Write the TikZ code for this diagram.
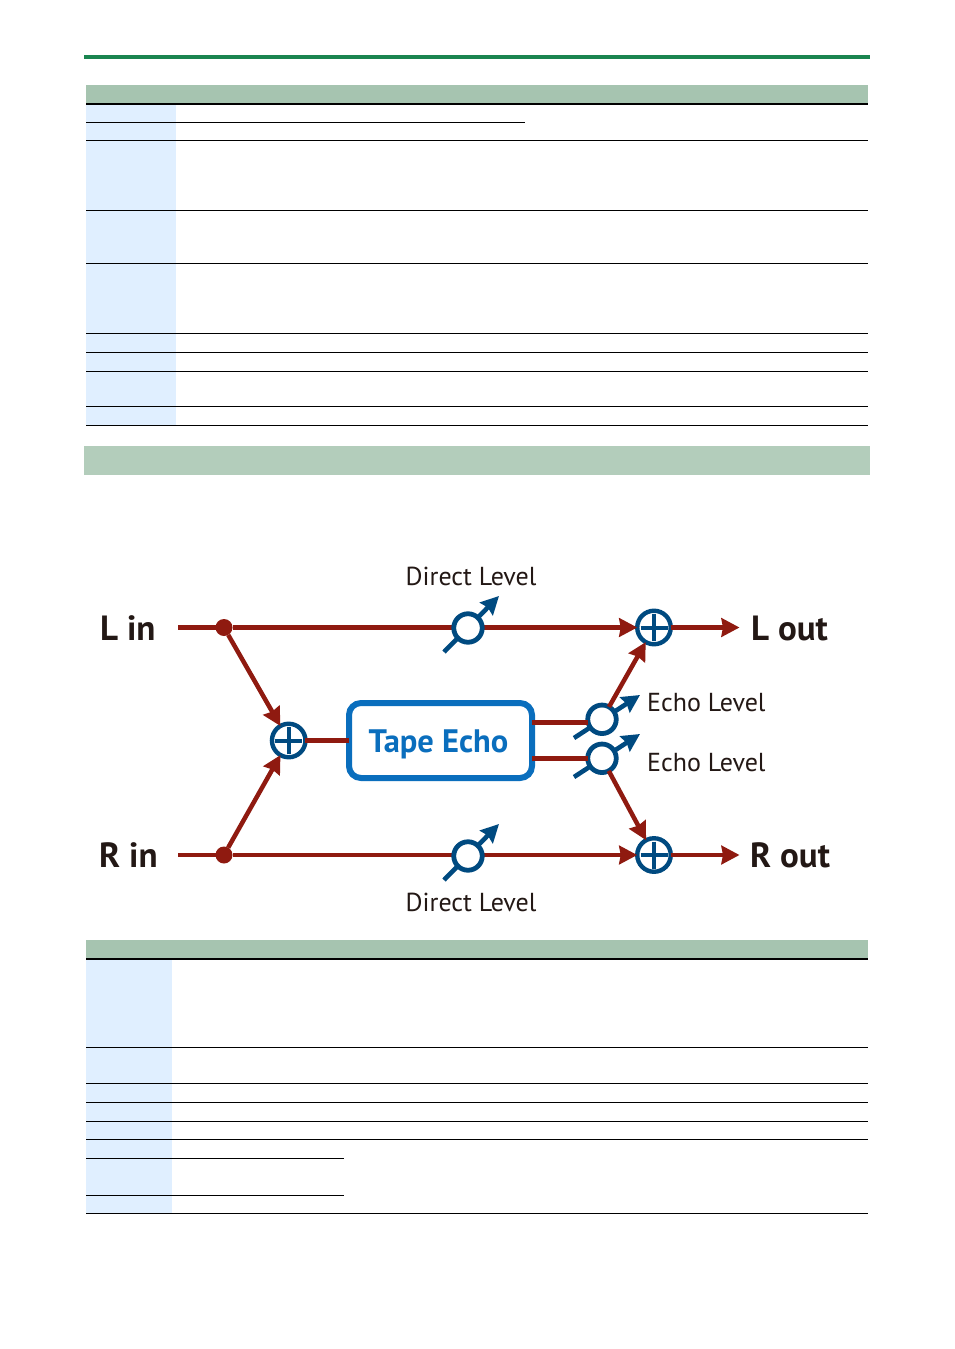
\documentclass[tikz,border=0pt]{standalone}
\usepackage{fontspec}
\setmainfont{PT Sans}
\usetikzlibrary{arrows.meta}
\definecolor{sigred}{HTML}{8F1A10}
\definecolor{knob}{HTML}{004A80}
\definecolor{boxblue}{HTML}{0A6EBD}
\definecolor{ink}{HTML}{231815}
\definecolor{rulegreen}{HTML}{1A8550}
\definecolor{headgreen}{HTML}{A6C4B0}
\definecolor{bandgreen}{HTML}{B3CDBB}
\definecolor{cellblue}{HTML}{E0EFFF}
\tikzset{
  sig/.style={draw=sigred,line width=4.5pt},
  sigarrow/.style={sig,-{Stealth[length=18pt,width=18.5pt,inset=1.5pt]}},
  pointer/.style={draw=knob,line width=4.6pt,-{Stealth[length=18pt,width=18pt,inset=2pt]}},
  levelknob/.style={circle,draw=knob,line width=4.8pt,fill=white,minimum size=28.5pt,inner sep=0pt,outer sep=0pt},
  summer/.style={circle,draw=knob,line width=4.4pt,fill=white,minimum size=33.5pt,inner sep=0pt,outer sep=0pt},
  crossbar/.style={draw=knob,line width=4pt},
  junction/.style={circle,fill=sigred,minimum size=17pt,inner sep=0pt,outer sep=0pt},
  fxbox/.style={draw=boxblue,line width=6pt,rounded corners=12pt,fill=white,minimum width=183pt,minimum height=75pt,inner sep=0pt,outer sep=0pt},
  fxlabel/.style={text=boxblue,font=\fontsize{32.5}{32.5}\selectfont\bfseries,inner sep=0pt,anchor=base},
  iolabel/.style={text=ink,font=\fontsize{35}{35}\selectfont\bfseries,inner sep=0pt,anchor=base west},
  levellabel/.style={text=ink,font=\fontsize{26}{26}\selectfont,inner sep=0pt,anchor=base west},
  thinrule/.style={draw=black,line width=1pt},
  thickrule/.style={draw=black,line width=1.8pt},
}
\begin{document}
\begin{tikzpicture}[x=1pt,y=-1pt]
\useasboundingbox (0,0) rectangle (954,1349);
\fill[white] (0,0) rectangle (954,1349);
% page furniture
\fill[rulegreen] (84,55) rectangle (870,59);
\fill[bandgreen] (84,446) rectangle (870,474.5);
% upper table
\fill[headgreen] (86,85) rectangle (868,103.5);
\fill[cellblue] (86,104) rectangle (176,425.5);
\draw[thickrule] (86,104) -- (868,104);
\draw[thinrule] (86,122.5) -- (525,122.5);
\foreach \yy in {140.5,210.5,263.5,333.5,352.5,371.5,406.5,425.5}
  \draw[thinrule] (86,\yy) -- (868,\yy);
% lower table
\fill[headgreen] (86,940) rectangle (868,958);
\fill[cellblue] (86,959) rectangle (172,1213.5);
\draw[thickrule] (86,959) -- (868,959);
\foreach \yy in {1047.5,1083.5,1102.5,1121.5,1139.5,1213.5}
  \draw[thinrule] (86,\yy) -- (868,\yy);
\foreach \yy in {1158.5,1195.5}
  \draw[thinrule] (86,\yy) -- (344,\yy);
% free ends
\coordinate (lstart) at (178,627.5);
\coordinate (rstart) at (178,855);
\coordinate (lend) at (739.5,627.5);
\coordinate (rend) at (739.5,855);
\coordinate (e1in) at (534,722.5);
\coordinate (e2in) at (534,758.7);
\coordinate (d1a) at (444,652); \coordinate (d1b) at (499,596);
\coordinate (d2a) at (444,880); \coordinate (d2b) at (499,824);
\coordinate (e1a) at (574,738); \coordinate (e1b) at (640,695);
\coordinate (e2a) at (574,777); \coordinate (e2b) at (640,734);
% level pointers
\draw[pointer] (d1a) -- (d1b);
\draw[pointer] (d2a) -- (d2b);
\draw[pointer] (e1a) -- (e1b);
\draw[pointer] (e2a) -- (e2b);
% main signal lines sit under the knobs
\node[junction] (ldot) at (224,627.5) {};
\node[junction] (rdot) at (224,855) {};
\node[summer] (lsum) at (654,627.5) {};
\node[summer] (rsum) at (654,855) {};
\node[summer] (insum) at (288.7,740.5) {};
\draw[sig] (lstart) -- (ldot);
\draw[sig] (rstart) -- (rdot);
\draw[sigarrow] (ldot) -- (lsum);
\draw[sigarrow] (rdot) -- (rsum);
\node[levelknob] (dk1) at (468,628) {};
\node[levelknob] (dk2) at (468,856) {};
\node[levelknob] (ek1) at (602,719.3) {};
\node[levelknob] (ek2) at (602,758.3) {};
\foreach \s in {lsum,rsum,insum}{
  \draw[crossbar] (\s.center) +(-13.5,0) -- +(13.5,0);
  \draw[crossbar] (\s.center) +(0,-13.5) -- +(0,13.5);
}
\node[fxbox] (fx) at (440.5,740.5) {};
\node[fxlabel] (fxname) at (438.5,752.5) {Tape Echo};
% connectors
\draw[sigarrow] (ldot) -- (insum);
\draw[sigarrow] (rdot) -- (insum);
\draw[sig] (insum) -- (fx);
\draw[sig] (fx.east |- e1in) -- (ek1.west |- e1in);
\draw[sig] (fx.east |- e2in) -- (ek2.west |- e2in);
\draw[sigarrow] (ek1) -- (lsum);
\draw[sigarrow] (ek2) -- (rsum);
\draw[sigarrow] (lsum) -- (lend);
\draw[sigarrow] (rsum) -- (rend);
% labels
\node[iolabel] (lin) at (100,640) {L in};
\node[iolabel] (rin) at (99,867) {R in};
\node[iolabel] (lout) at (751,640) {L out};
\node[iolabel] (rout) at (750,867) {R out};
\node[levellabel] (dl1) at (405.5,585) {Direct Level};
\node[levellabel] (dl2) at (405.5,911) {Direct Level};
\node[levellabel] (el1) at (647,711.5) {Echo Level};
\node[levellabel] (el2) at (647,771.5) {Echo Level};
\end{tikzpicture}
\end{document}
